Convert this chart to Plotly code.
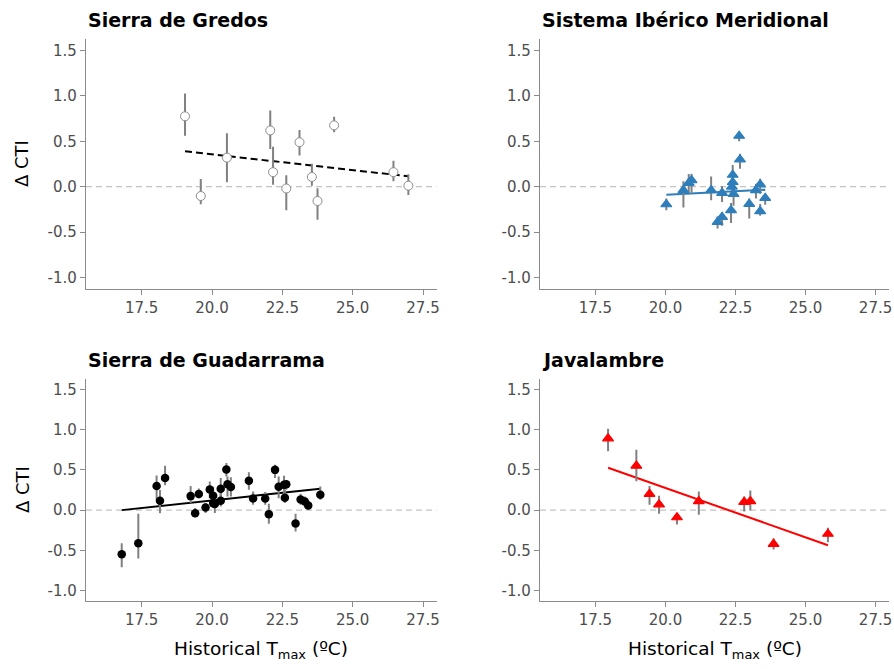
import plotly.graph_objects as go

W, H = 894, 669

# ---------------- data ----------------
titles = ["Sierra de Gredos", "Sistema Ibérico Meridional", "Sierra de Guadarrama", "Javalambre"]

# Sierra de Gredos
gredos_x = [19.04, 19.60, 20.53, 22.07, 22.17, 22.64, 23.11, 23.55, 23.75, 24.34, 26.45, 26.98]
gredos_y = [0.776, -0.103, 0.32, 0.62, 0.16, -0.02, 0.49, 0.107, -0.158, 0.676, 0.16, 0.011]
gredos_hi = [1.026, 0.085, 0.59, 0.84, 0.44, 0.125, 0.625, 0.254, -0.018, 0.772, 0.287, 0.136]
gredos_lo = [0.5625, -0.195, 0.05, 0.415, 0.02, -0.26, 0.345, 0.01, -0.364, 0.60, 0.059, -0.092]
gredos_fit_x = [19.04, 26.98]
gredos_fit_y = [0.39, 0.114]

# Sistema Ibérico Meridional
iberico_x = [20.03, 20.64, 20.83, 20.93, 21.63, 21.86, 22.02, 22.02, 22.34, 22.37,
             22.40, 22.40, 22.43, 22.63, 22.66, 22.99, 23.23, 23.38, 23.38, 23.56]
iberico_y = [-0.195, -0.04, 0.04, 0.07, -0.04, -0.39, -0.07, -0.335, -0.26, 0.0,
             0.05, 0.13, -0.08, 0.56, 0.30, -0.19, -0.04, 0.025, -0.27, -0.125]
iberico_hi = [-0.13, 0.06, 0.14, 0.143, 0.113, -0.33, 0.007, -0.29, -0.18, 0.06,
              0.12, 0.24, 0.0, 0.60, 0.364, -0.13, 0.033, 0.088, -0.19, -0.096]
iberico_lo = [-0.26, -0.23, -0.07, -0.066, -0.15, -0.46, -0.17, -0.43, -0.40, -0.08,
              -0.02, 0.05, -0.21, 0.50, 0.199, -0.35, -0.13, -0.077, -0.32, -0.20]
iberico_fit_x = [20.03, 23.56]
iberico_fit_y = [-0.088, -0.033]

# Sierra de Guadarrama
guad_x = [16.79, 17.38, 18.03, 18.15, 18.33, 19.24, 19.40, 19.53, 19.77, 19.92, 20.04,
          20.04, 20.10, 20.31, 20.31, 20.51, 20.55, 20.67, 21.31, 21.46, 21.89, 22.02,
          22.24, 22.37, 22.56, 22.64, 22.59, 22.97, 23.15, 23.30, 23.42, 23.85]
guad_y = [-0.548, -0.41, 0.30, 0.116, 0.40, 0.174, -0.04, 0.20, 0.033, 0.257, 0.18,
          0.087, 0.075, 0.116, 0.265, 0.506, 0.32, 0.286, 0.365, 0.145, 0.145, -0.05,
          0.50, 0.29, 0.315, 0.32, 0.154, -0.166, 0.133, 0.108, 0.058, 0.19]
guad_hi = [-0.41, -0.046, 0.43, 0.25, 0.55, 0.30, 0.025, 0.27, 0.087, 0.357, 0.29,
           0.15, 0.17, 0.212, 0.398, 0.585, 0.419, 0.407, 0.469, 0.232, 0.224, 0.08,
           0.565, 0.419, 0.427, 0.357, 0.253, -0.046, 0.203, 0.170, 0.12, 0.295]
guad_lo = [-0.71, -0.60, 0.13, -0.04, 0.31, 0.087, -0.087, 0.149, -0.037, 0.149, 0.087,
           0.03, -0.037, 0.046, 0.149, 0.419, 0.170, 0.170, 0.253, 0.066, 0.066, -0.17,
           0.398, 0.149, 0.170, 0.253, 0.087, -0.266, 0.066, 0.046, 0.004, 0.129]
guad_fit_x = [16.79, 23.85]
guad_fit_y = [0.0, 0.266]

# Javalambre
java_x = [17.95, 18.96, 19.43, 19.77, 20.41, 21.19, 22.81, 23.03, 23.86, 25.80]
java_y = [0.89, 0.55, 0.20, 0.07, -0.09, 0.11, 0.10, 0.11, -0.42, -0.295]
java_hi = [1.01, 0.75, 0.30, 0.18, -0.045, 0.23, 0.17, 0.245, -0.35, -0.22]
java_lo = [0.73, 0.36, 0.066, -0.045, -0.18, -0.058, -0.017, -0.004, -0.49, -0.40]
java_fit_x = [17.95, 25.80]
java_fit_y = [0.527, -0.436]

x_ticks = [17.5, 20.0, 22.5, 25.0, 27.5]
x_ticktext = ["17.5", "20.0", "22.5", "25.0", "27.5"]
y_ticks = [-1.0, -0.5, 0.0, 0.5, 1.0, 1.5]
y_ticktext = ["-1.0", "-0.5", "0.0", "0.5", "1.0", "1.5"]
x_range = [15.52, 27.98]
y_range = [-1.125, 1.625]

# ---------------- layout geometry (reference pixels) ----------------
FONT = "DejaVu Sans"
px_x = [(86, 436.5), (540, 889), (86, 436.5), (540, 889)]
px_y = [(39.3, 288.7), (39.3, 288.7), (379.3, 600.7), (379.3, 600.7)]


def fx(px):
    return px / W


def fy(px):
    return 1 - px / H


panels = [
    dict(x=gredos_x, y=gredos_y, hi=gredos_hi, lo=gredos_lo, fx=gredos_fit_x, fy=gredos_fit_y,
         symbol="circle", mcolor="white", lcolor="#8c8c8c", lw=1.0, size=9,
         fitcolor="black", dash="7px,4px"),
    dict(x=iberico_x, y=iberico_y, hi=iberico_hi, lo=iberico_lo, fx=iberico_fit_x, fy=iberico_fit_y,
         symbol="triangle-up", mcolor="#2e7ebb", lcolor="#2e7ebb", lw=1.2, size=9.5,
         fitcolor="#2e7ebb", dash="solid"),
    dict(x=guad_x, y=guad_y, hi=guad_hi, lo=guad_lo, fx=guad_fit_x, fy=guad_fit_y,
         symbol="circle", mcolor="black", lcolor="black", lw=0, size=8.5,
         fitcolor="black", dash="solid"),
    dict(x=java_x, y=java_y, hi=java_hi, lo=java_lo, fx=java_fit_x, fy=java_fit_y,
         symbol="triangle-up", mcolor="#ff0000", lcolor="#ff0000", lw=1.2, size=9.5,
         fitcolor="#ff0000", dash="solid"),
]

fig = go.Figure()
layout = dict(
    width=W, height=H,
    margin=dict(l=0, r=0, t=0, b=0, autoexpand=False),
    paper_bgcolor="white", plot_bgcolor="white",
    showlegend=False,
    font=dict(family=FONT, color="black"),
    annotations=[], shapes=[],
)

for i, p in enumerate(panels):
    n = i + 1
    xa = "x" if n == 1 else f"x{n}"
    ya = "y" if n == 1 else f"y{n}"
    plus = [h - v for h, v in zip(p["hi"], p["y"])]
    minus = [v - l for v, l in zip(p["y"], p["lo"])]
    fig.add_trace(go.Scatter(
        x=p["fx"], y=p["fy"], mode="lines", xaxis=xa, yaxis=ya,
        line=dict(color=p["fitcolor"], width=2, dash=p["dash"]), hoverinfo="skip"))
    fig.add_trace(go.Scatter(
        x=p["x"], y=p["y"], mode="markers", xaxis=xa, yaxis=ya,
        error_y=dict(type="data", symmetric=False, array=plus, arrayminus=minus,
                     color="#808080", thickness=2, width=0),
        marker=dict(symbol=p["symbol"], color=p["mcolor"], size=p["size"],
                    line=dict(color=p["lcolor"], width=p["lw"]))))
    x0, x1 = px_x[i]
    yt, yb = px_y[i]
    axis_common = dict(showgrid=False, zeroline=False, showline=True, linecolor="#8a8a8a",
                       linewidth=1.3, ticks="outside", ticklen=5, tickcolor="#8a8a8a",
                       tickwidth=1.1, automargin=False,
                       tickfont=dict(family=FONT, size=15, color="#4d4d4d"))
    layout["xaxis" if n == 1 else f"xaxis{n}"] = dict(
        domain=[fx(x0), fx(x1)], range=x_range, anchor=ya,
        tickvals=x_ticks, ticktext=x_ticktext, **axis_common)
    layout["yaxis" if n == 1 else f"yaxis{n}"] = dict(
        domain=[fy(yb), fy(yt)], range=y_range, anchor=xa,
        tickvals=y_ticks, ticktext=y_ticktext, **axis_common)
    # zero reference line
    layout["shapes"].append(dict(type="line", xref=f"{xa} domain", yref=ya,
                                 x0=0, x1=1, y0=0, y1=0, layer="below",
                                 line=dict(color="#c4c4c4", width=1.1, dash="6px,4px")))
    # panel title
    layout["annotations"].append(dict(
        text=titles[i], xref="paper", yref="paper", x=fx(x0), y=fy(yt - 19.5),
        xanchor="left", yanchor="middle", showarrow=False,
        font=dict(family=FONT, size=19, color="black", weight="bold")))

# y-axis titles (left column)
for (yt, yb) in [px_y[0], px_y[2]]:
    layout["annotations"].append(dict(
        text="Δ CTI", xref="paper", yref="paper", x=fx(22), y=fy((yt + yb) / 2),
        xanchor="center", yanchor="middle", textangle=-90, showarrow=False,
        font=dict(family=FONT, size=18, color="black")))

# x-axis titles (bottom row)
for (x0, x1) in [px_x[2], px_x[3]]:
    layout["annotations"].append(dict(
        text="Historical T<sub>max</sub> (ºC)", xref="paper", yref="paper",
        x=fx((x0 + x1) / 2), y=fy(650),
        xanchor="center", yanchor="middle", showarrow=False,
        font=dict(family=FONT, size=18.5, color="black")))

fig.update_layout(**layout)
# remove the browser's default 8px body margin so the figure fills the window
fig.write_html("out.html", config={"displayModeBar": False},
               post_script="document.body.style.margin='0px';")
